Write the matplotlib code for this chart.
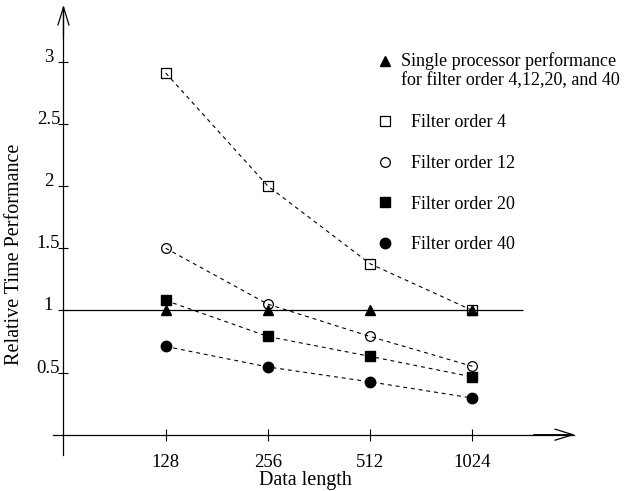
import numpy as np
import matplotlib
matplotlib.use('Agg')
import matplotlib.pyplot as plt
from matplotlib.lines import Line2D
from matplotlib.legend_handler import HandlerLine2D

# data
lengths = ['128', '256', '512', '1024']
single = [1.0, 1.0, 1.0, 1.0]
order4 = [2.91, 2.0, 1.375, 1.0]
order12 = [1.5, 1.05, 0.79, 0.55]
order20 = [1.08, 0.79, 0.63, 0.465]
order40 = [0.71, 0.545, 0.425, 0.295]
yticks = [0.5, 1, 1.5, 2, 2.5, 3]
ytick_labels = ['0.5', '1', '1.5', '2', '2.5', '3']

plt.rcParams['font.family'] = ['Liberation Serif', 'DejaVu Serif']
plt.rcParams['font.size'] = 13


class TopMarker(HandlerLine2D):
    # put the marker next to the first line of a two line label
    def create_artists(self, legend, orig_handle, xdescent, ydescent,
                       width, height, fontsize, trans):
        arts = super().create_artists(legend, orig_handle, xdescent, ydescent,
                                      width, height, fontsize, trans)
        for a in arts:
            a.set_ydata(np.asarray(a.get_ydata(), dtype=float) + 7)
        return arts


fig = plt.figure(figsize=(6.24, 4.91), dpi=100)
ax = fig.add_axes([0, 0, 1, 1])
ax.set_xlim(-1.621, 4.484)
ax.set_ylim(-0.453, 3.497)

x = np.arange(len(lengths))
dash = dict(color='black', lw=0.8, dashes=(3.5, 3.5))
ax.plot(x, order4, marker='s', ms=7, mfc='none', mec='black', mew=0.9, **dash)
ax.plot(x, order12, marker='o', ms=7, mfc='none', mec='black', mew=0.9, **dash)
ax.plot(x, order20, marker='s', ms=7, mfc='black', mec='black', **dash)
ax.plot(x, order40, marker='o', ms=7.5, mfc='black', mec='black', **dash)
ax.hlines(1, -1.0, 3.5, color='black', lw=0.9, zorder=1)
ax.plot(x, single, ls='none', marker='^', ms=7.5, color='black', zorder=3)

# axes drawn as arrows through the origin
for s in ['top', 'right']:
    ax.spines[s].set_visible(False)
ax.spines['left'].set_position(('data', -1.0))
ax.spines['bottom'].set_position(('data', 0))
ax.spines['left'].set_bounds(-0.163, 3.44)
ax.spines['bottom'].set_bounds(-1.103, 3.99)
ax.spines['left'].set_linewidth(0.9)
ax.spines['bottom'].set_linewidth(0.9)
arrow = dict(arrowstyle='->, head_length=1.3, head_width=0.4', lw=0.9,
             color='black', mutation_scale=10, shrinkA=0, shrinkB=0)
ax.annotate('', xy=(-1.0, 3.457), xytext=(-1.0, 3.2), arrowprops=arrow)
ax.annotate('', xy=(4.005, 0), xytext=(3.6, 0), arrowprops=arrow)

ax.set_xticks(x)
ax.set_xticklabels(lengths, fontsize=13.5)
ax.set_yticks(yticks)
ax.set_yticklabels(ytick_labels, fontsize=13.5)
ax.tick_params(axis='y', direction='inout', length=7.2, width=0.8, pad=7.2)
ax.tick_params(axis='x', direction='inout', length=8.6, width=0.8, pad=9.5)
for lbl in ax.get_yticklabels():
    lbl.set_ha('center')
    lbl.set_va('baseline')

ax.set_xlabel('Data length', fontsize=14.5)
ax.xaxis.set_label_coords(0.489, 0.022)
ax.xaxis.label.set_va('center')
ax.set_ylabel('Relative Time Performance', fontsize=14.5)
ax.yaxis.set_label_coords(0.024, 0.482)
ax.yaxis.label.set_va('center')

h1 = Line2D([], [], ls='none', marker='^', ms=7.5, color='black')
leg1 = ax.legend([h1], ['Single processor performance\nfor filter order 4,12,20, and 40'],
                 loc='upper left', bbox_to_anchor=(0.6026, 0.894),
                 bbox_transform=fig.transFigure, frameon=False, borderpad=0,
                 borderaxespad=0, handlelength=1, handletextpad=0.37,
                 handler_map={h1: TopMarker()})
ax.add_artist(leg1)

handles = [Line2D([], [], ls='none', marker='s', ms=7, mfc='none', mec='black', mew=0.9),
           Line2D([], [], ls='none', marker='o', ms=7, mfc='none', mec='black', mew=0.9),
           Line2D([], [], ls='none', marker='s', ms=7, color='black'),
           Line2D([], [], ls='none', marker='o', ms=7.5, color='black')]
labels = ['Filter order 4', 'Filter order 12', 'Filter order 20', 'Filter order 40']
ax.legend(handles, labels, loc='upper left', bbox_to_anchor=(0.6026, 0.767),
          bbox_transform=fig.transFigure, frameon=False, borderpad=0,
          borderaxespad=0, handlelength=1, handletextpad=0.92, labelspacing=1.31)

fig.savefig('out.png', dpi=100)
